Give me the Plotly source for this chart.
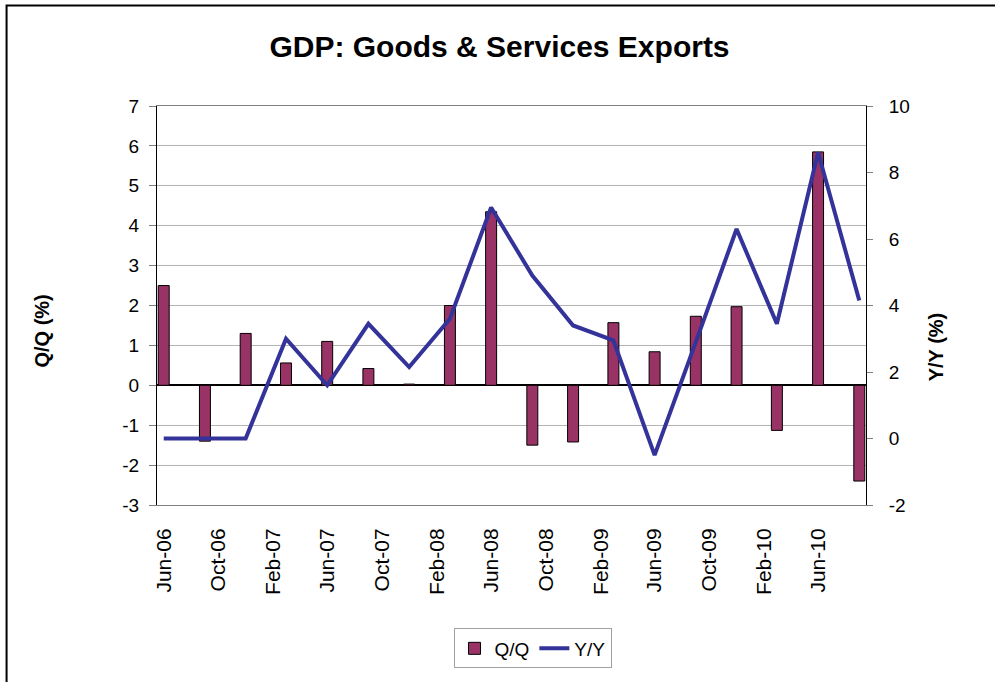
import pandas as pd
import plotly.graph_objects as go

# ---- data ----
quarters = ["Jun-06", "Sep-06", "Dec-06", "Mar-07", "Jun-07", "Sep-07", "Dec-07",
            "Mar-08", "Jun-08", "Sep-08", "Dec-08", "Mar-09", "Jun-09", "Sep-09",
            "Dec-09", "Mar-10", "Jun-10", "Sep-10"]
qq_values = [2.5, -1.4, 1.3, 0.56, 1.1, 0.42, 0.03, 2.0, 4.35, -1.5, -1.42, 1.57,
             0.84, 1.73, 1.97, -1.13, 5.85, -2.4]
yy_values = [0.0, 0.0, 0.0, 3.0, 1.6, 3.45, 2.15, 3.6, 6.95, 4.9, 3.4, 2.95,
             -0.5, 2.9, 6.3, 3.45, 8.6, 4.15]
tick_labels = ["Jun-06", "Oct-06", "Feb-07", "Jun-07", "Oct-07", "Feb-08", "Jun-08",
               "Oct-08", "Feb-09", "Jun-09", "Oct-09", "Feb-10", "Jun-10"]
left_ticks = [-3, -2, -1, 0, 1, 2, 3, 4, 5, 6, 7]
left_tick_text = ["-3", "-2", "-1", "0", "1", "2", "3", "4", "5", "6", "7"]
right_ticks = [-2, 0, 2, 4, 6, 8, 10]
right_tick_text = ["-2", "0", "2", "4", "6", "8", "10"]

def mid_month(lbl):
    return pd.to_datetime(lbl, format="%b-%y") + pd.Timedelta(days=15)

x_dates = [mid_month(q) for q in quarters]
tick_vals = [mid_month(t) for t in tick_labels]

FONT = "Liberation Sans, Arial, sans-serif"
DAY_MS = 86400000

fig = go.Figure()
fig.add_trace(go.Bar(
    x=x_dates, y=qq_values, name="Q/Q",
    marker=dict(color="#993366", line=dict(color="black", width=1)),
    width=[24.5 * DAY_MS] * len(x_dates),
    yaxis="y",
))
fig.add_trace(go.Scatter(
    x=x_dates, y=yy_values, name="Y/Y", mode="lines",
    line=dict(color="#333399", width=4),
    yaxis="y2",
))

# plot area geometry (pixels)
L, R, T, B = 157.3, 865.7, 105.7, 505.3
W, H = R - L, B - T
def px(x): return (x - L) / W
def py(y): return (B - y) / H

fig.update_layout(
    width=995, height=682,
    margin=dict(l=157, r=129, t=106, b=177),
    paper_bgcolor="white", plot_bgcolor="white",
    font=dict(family=FONT, color="black", size=18),
    title=dict(text="<b>GDP: Goods & Services Exports</b>", x=499.5 / 995, y=1 - 46 / 682,
               xanchor="center", yanchor="middle",
               font=dict(family=FONT, size=30, color="black")),
    showlegend=True,
    legend=dict(orientation="h", x=px(532.5), y=py(649), xanchor="center", yanchor="middle",
                bordercolor="#a0a0a0", borderwidth=1, bgcolor="white",
                font=dict(family=FONT, size=19), itemwidth=30, tracegroupgap=0),
    xaxis=dict(
        type="date", range=["2006-06-01", "2010-10-01"],
        tickvals=tick_vals, ticktext=tick_labels, tickangle=-90,
        tickfont=dict(family=FONT, size=21),
        showgrid=False, zeroline=False,
        showline=True, linecolor="#808080", linewidth=1, mirror=True,
        ticks="", ticklabelstandoff=14,
    ),
    yaxis=dict(
        range=[-3, 7], tickvals=left_ticks, ticktext=left_tick_text,
        showgrid=True, gridcolor="#b4b4b4", gridwidth=1,
        zeroline=True, zerolinecolor="black", zerolinewidth=1.5,
        showline=True, linecolor="black", linewidth=1,
        ticks="outside", ticklen=7, tickcolor="#808080",
        tickfont=dict(family=FONT, size=19), ticklabelstandoff=6,
    ),
    yaxis2=dict(
        range=[-2, 10], tickvals=right_ticks, ticktext=right_tick_text,
        overlaying="y", side="right",
        showgrid=False, zeroline=False,
        showline=True, linecolor="black", linewidth=1,
        ticks="outside", ticklen=6, tickcolor="#808080",
        tickfont=dict(family=FONT, size=19), ticklabelstandoff=12,
    ),
    annotations=[
        dict(text="<b>Q/Q (%)</b>", xref="paper", yref="paper", x=px(42), y=py(331),
             textangle=-90, showarrow=False, xanchor="center", yanchor="middle",
             font=dict(family=FONT, size=20, color="black")),
        dict(text="<b>Y/Y (%)</b>", xref="paper", yref="paper", x=px(936), y=py(347),
             textangle=-90, showarrow=False, xanchor="center", yanchor="middle",
             font=dict(family=FONT, size=20, color="black")),
    ],
    shapes=[
        dict(type="rect", xref="paper", yref="paper",
             x0=px(7), x1=px(1010), y0=py(700), y1=py(5),
             line=dict(color="black", width=2), fillcolor="rgba(0,0,0,0)", layer="above"),
    ],
)

fig.write_html("out.html", config={"displayModeBar": False},
               post_script="document.body.style.margin='0';document.body.style.overflow='hidden';")
